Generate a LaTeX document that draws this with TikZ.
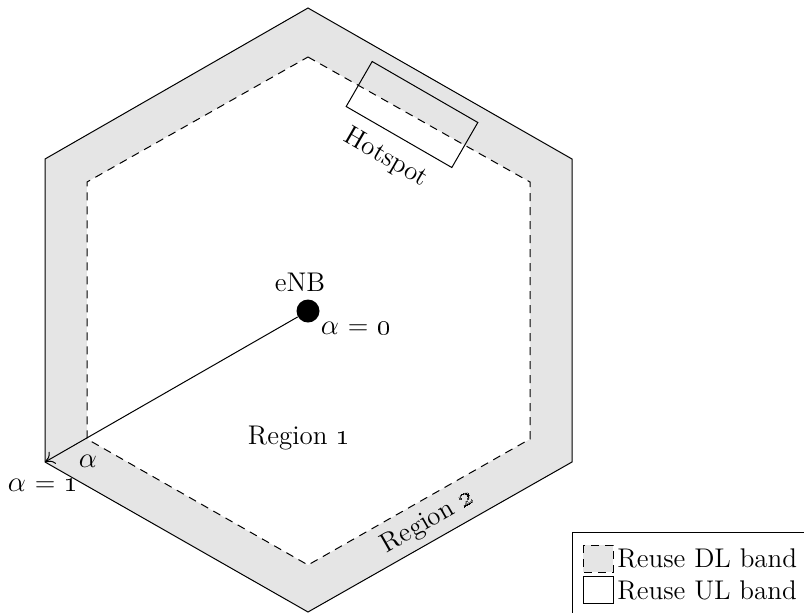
\documentclass[tikz,border=0pt]{standalone}
\usetikzlibrary{arrows.meta}
\begin{document}
\begin{tikzpicture}[x=0.5pt,y=-0.5pt,
  edge/.style={line width=0.5pt},
  dsh/.style={line width=0.5pt,dash pattern=on 4pt off 3pt},
  band/.style={fill=gray!20},
  lbl/.style={font=\fontsize{13.5}{15}\selectfont, inner sep=1pt},
  dot/.style={circle,fill=black,minimum size=11.5pt,inner sep=0pt}]
\useasboundingbox (0,0) rectangle (804,612);
% outer hexagon corners
\coordinate (O1) at (308,8);
\coordinate (O2) at (572,159);
\coordinate (O3) at (572,462);
\coordinate (O4) at (308,612);
\coordinate (O5) at (45,462);
\coordinate (O6) at (45,159);
% inner hexagon corners
\coordinate (I1) at (308,57);
\coordinate (I2) at (530,182);
\coordinate (I3) at (530,439);
\coordinate (I4) at (308,565);
\coordinate (I5) at (87,439);
\coordinate (I6) at (87,182);
\fill[band] (O1)--(O2)--(O3)--(O4)--(O5)--(O6)--cycle;
\fill[white] (I1)--(I2)--(I3)--(I4)--(I5)--(I6)--cycle;
\draw[edge] (O1)--(O2)--(O3)--(O4)--(O5)--(O6)--cycle;
\draw[dsh] (I1)--(I2)--(I3)--(I4)--(I5)--(I6)--cycle;
% hotspot
\node[draw,line width=0.5pt,minimum width=61pt,minimum height=26pt,rotate=-30] (hot) at (412,114.5) {};
\node[lbl,rotate=-30] (hotl) at (386,158) {Hotspot};
% eNB
\node[dot] (enb) at (308,311) {};
\node[lbl] (enbl) at (300,282) {eNB};
\node[lbl] (a0) at (356,328) {$\alpha$ = \oldstylenums{0}};
\draw[edge,-{To[length=4.5pt,width=7pt]}] (enb) -- (O5);
\node[lbl] (a) at (88,461) {$\alpha$};
\node[lbl] (a1) at (43,485) {$\alpha$ = \oldstylenums{1}};
\node[lbl] (r1) at (299,438) {Region \oldstylenums{1}};
\node[lbl,rotate=30] (r2) at (428,522) {Region \oldstylenums{2}};
% legend
\draw[line width=0.5pt] (810,532) -- (572,532) -- (572,620);
\draw[dsh,band] (583,545) rectangle (613,572);
\draw[edge,fill=white] (583,576) rectangle (613,603);
\node[lbl,anchor=west] (l1) at (615,558) {Reuse DL band};
\node[lbl,anchor=west] (l2) at (615,590) {Reuse UL band};
\end{tikzpicture}
\end{document}
